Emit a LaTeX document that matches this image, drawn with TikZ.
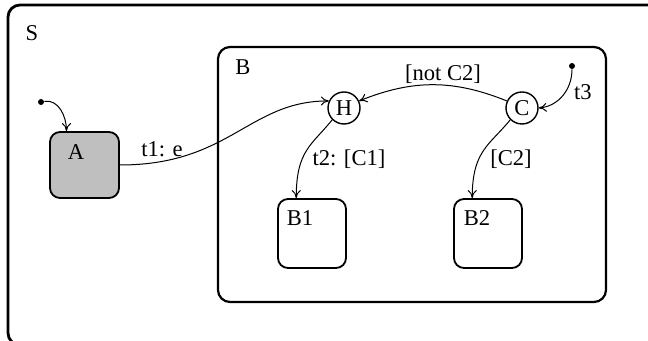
\documentclass[tikz,border=0pt]{standalone}
\usepackage{fontspec}
\setmainfont{Liberation Serif}
\usepackage{tikz}
\usetikzlibrary{positioning}
\usetikzlibrary{arrows.meta}
\tikzset{
    statebox/.style={draw, line width=0.9pt, rounded corners=5pt, inner sep=0pt},
    histnode/.style={draw, circle, line width=0.7pt, minimum size=16pt, inner sep=0pt, font=\fontsize{11.3}{13}\selectfont},
    statename/.style={font=\fontsize{11.3}{13}\selectfont, inner sep=1pt},
    trans/.style={->, line width=0.5pt},
    initdot/.style={circle, fill, inner sep=0pt, minimum size=3pt}
}

\begin{document}
\begin{tikzpicture}[x=0.5pt, y=-0.5pt, >={To[length=4pt,width=4.5pt]}]
        \useasboundingbox (0,0) rectangle (648,341);

        % Outer state S
        \draw[line width=1.4pt, rounded corners=6pt] (8,5) rectangle (700,345);
        \node[statename] (Slabel) at (32,33) {S};

        % State A
        \node[statebox, fill=black!25, minimum width=34.5pt, minimum height=33pt] (A) at (84.5,165) {};
        \node[statename] (Alabel) at (76,152) {A};
        \node[initdot] (dotA) at (41,102) {};

        % Superstate B
        \node[statebox, line width=1.1pt, rounded corners=6pt, minimum width=194pt, minimum height=127.5pt] (B) at (412,174.5) {};
        \node[statename] (Blabel) at (243,67) {B};

        % History and condition connectors
        \node[histnode] (H) at (344,108) {H};
        \node[histnode] (C) at (522,108) {C};
        \node[initdot] (dotC) at (572,66) {};

        % Substates
        \node[statebox, minimum width=34pt, minimum height=34.5pt] (B1) at (312,233.5) {};
        \node[statename] (B1label) at (300,218) {B1};
        \node[statebox, minimum width=34pt, minimum height=34.5pt] (B2) at (488,233.5) {};
        \node[statename] (B2label) at (477,218) {B2};

        % Transitions
        \draw[trans] (dotA) to[out=10, in=90] (A.118);
        \draw[trans] (A.east) .. controls +(110,0) and +(-80,0) .. (H.155);
        \node[statename] (t1) at (162,149) {t1: e};

        \draw[trans] (dotC) to[out=-90, in=5] (C.east);
        \node[statename] (t3) at (583,92) {t3};

        \draw[trans] (C.155) to[bend right=22] (H.25);
        \node[statename] (notC2) at (443,74) {[not C2]};

        \draw[trans] (H.225) .. controls +(-20,25) and +(0,-48) .. (B1.114);
        \node[statename] (t2) at (349,159) {t2: [C1]};

        \draw[trans] (C.225) .. controls +(-20,25) and +(0,-48) .. (B2.114);
        \node[statename] (C2) at (511,159) {[C2]};
    \end{tikzpicture}
\end{document}
